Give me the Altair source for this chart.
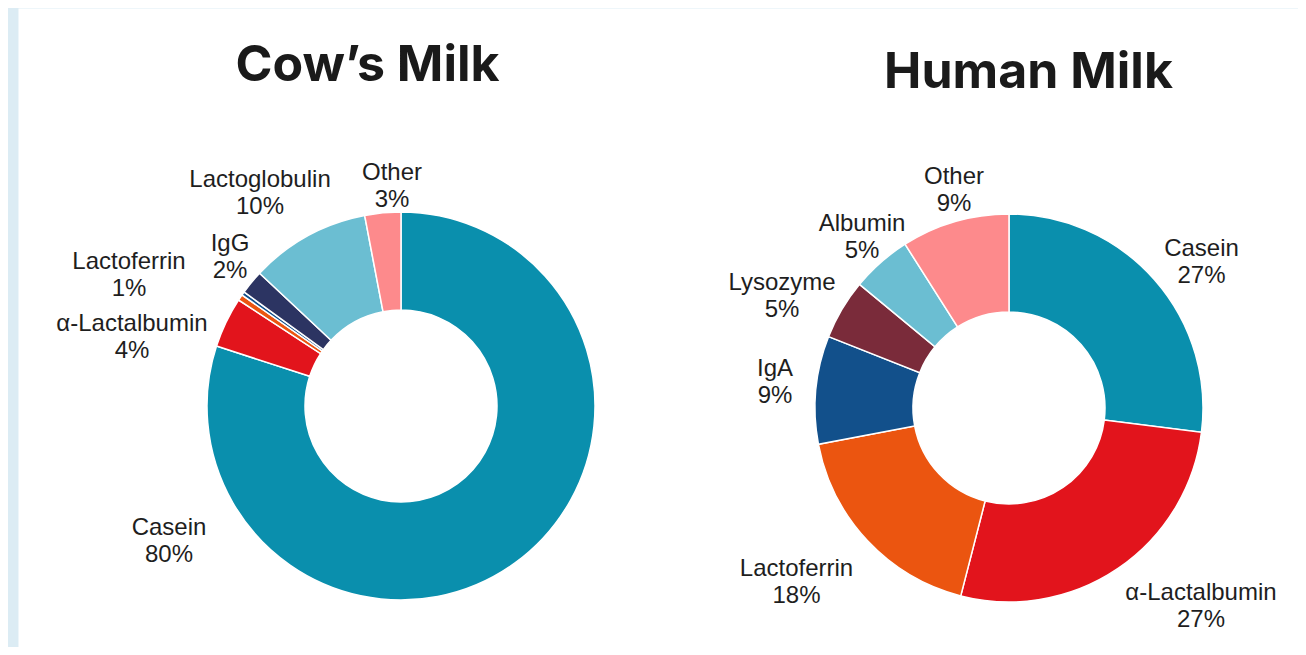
import math
import altair as alt
import pandas as pd

# ---------------- data ----------------
charts = ["Cow’s Milk", "Human Milk"]

cow_categories = ["Casein", "α-Lactalbumin", "Lactoferrin", "IgA", "IgG", "Lactoglobulin", "Other"]
cow_values = [80, 4.2, 0.5, 0.3, 2, 10, 3]
cow_pct = ["80%", "4%", "1%", "", "2%", "10%", "3%"]

human_categories = ["Casein", "α-Lactalbumin", "Lactoferrin", "IgA", "Lysozyme", "Albumin", "Other"]
human_values = [27, 27, 18, 9, 5, 5, 9]
human_pct = ["27%", "27%", "18%", "9%", "5%", "5%", "9%"]

color_domain = ["Casein", "α-Lactalbumin", "Lactoferrin", "IgA", "IgG",
                "Lactoglobulin", "Lysozyme", "Albumin", "Other"]
color_range = ["#0a8fad", "#e2141c", "#eb5510", "#12508b", "#2c3462",
               "#6bbed2", "#7a2b3a", "#6bbed2", "#fd8a8c"]

rows = []
for ch, cats, vals, pcts in [(charts[0], cow_categories, cow_values, cow_pct),
                             (charts[1], human_categories, human_values, human_pct)]:
    for i, (c, v, p) in enumerate(zip(cats, vals, pcts)):
        rows.append({"chart": ch, "category": c, "value": v, "order": i,
                     "label": f"{c}\n{p}"})
df = pd.DataFrame(rows)
titles_df = pd.DataFrame({"chart": charts})

# ---------------- layout (label placement offsets from donut centre; first line) ----------------
label_offsets = {
    (charts[0], "Casein"): (-232, 122),
    (charts[0], "α-Lactalbumin"): (-269, -82.5),
    (charts[0], "Lactoferrin"): (-272, -144.5),
    (charts[0], "IgG"): (-171, -162),
    (charts[0], "Lactoglobulin"): (-141, -226),
    (charts[0], "Other"): (-9, -233),
    (charts[1], "Casein"): (192.5, -159),
    (charts[1], "α-Lactalbumin"): (192, 185),
    (charts[1], "Lactoferrin"): (-212.5, 161),
    (charts[1], "IgA"): (-234, -39),
    (charts[1], "Lysozyme"): (-227, -125),
    (charts[1], "Albumin"): (-147, -184),
    (charts[1], "Other"): (-55, -231),
}
title_offsets = {charts[0]: (-33.5, -340.5, 50), charts[1]: (19.5, -335, 50)}

x_enc = alt.X("chart:N", scale=alt.Scale(type="point", domain=charts, range=[383, 991], padding=0), axis=None)
y_enc = alt.Y("chart:N", scale=alt.Scale(type="point", domain=charts, range=[398, 400], padding=0), axis=None)

arcs = (
    alt.Chart(df)
    .transform_window(end="sum(value)", groupby=["chart"], sort=[alt.SortField("order")])
    .transform_calculate(start="datum.end - datum.value")
    .mark_arc(innerRadius=96, outerRadius=194, stroke="white", strokeWidth=1.5)
    .encode(
        x=x_enc,
        y=y_enc,
        theta=alt.Theta("start:Q", scale=alt.Scale(domain=[0, 100], range=[0, 2 * math.pi])),
        theta2="end:Q",
        color=alt.Color("category:N", scale=alt.Scale(domain=color_domain, range=color_range), legend=None),
    )
)

layers = [arcs]
for (ch, cat), (dx, dy) in label_offsets.items():
    layers.append(
        alt.Chart(df)
        .transform_filter((alt.datum.chart == ch) & (alt.datum.category == cat))
        .mark_text(dx=dx, dy=dy, align="center", baseline="middle", lineBreak="\n",
                   lineHeight=27, fontSize=24, font="Liberation Sans", color="#1e1e1e")
        .encode(x=x_enc, y=y_enc, text="label:N")
    )
for ch, (dx, dy, fs) in title_offsets.items():
    layers.append(
        alt.Chart(titles_df)
        .transform_filter(alt.datum.chart == ch)
        .mark_text(dx=dx, dy=dy, align="center", baseline="middle", fontSize=fs,
                   font="Inter", fontWeight="bold", color="#1a1a1a")
        .encode(x=x_enc, y=y_enc, text="chart:N")
    )

chart = (
    alt.layer(*layers)
    .properties(
        width=1280, height=639,
        autosize=alt.AutoSizeParams(type="none"),
        padding={"left": 10, "top": 0, "right": 0, "bottom": 0},
        background="#dcecf4",
    )
    .configure_view(stroke="transparent", fill="white")
)

chart.save("out.html", embed_options={"renderer": "svg", "actions": False})
